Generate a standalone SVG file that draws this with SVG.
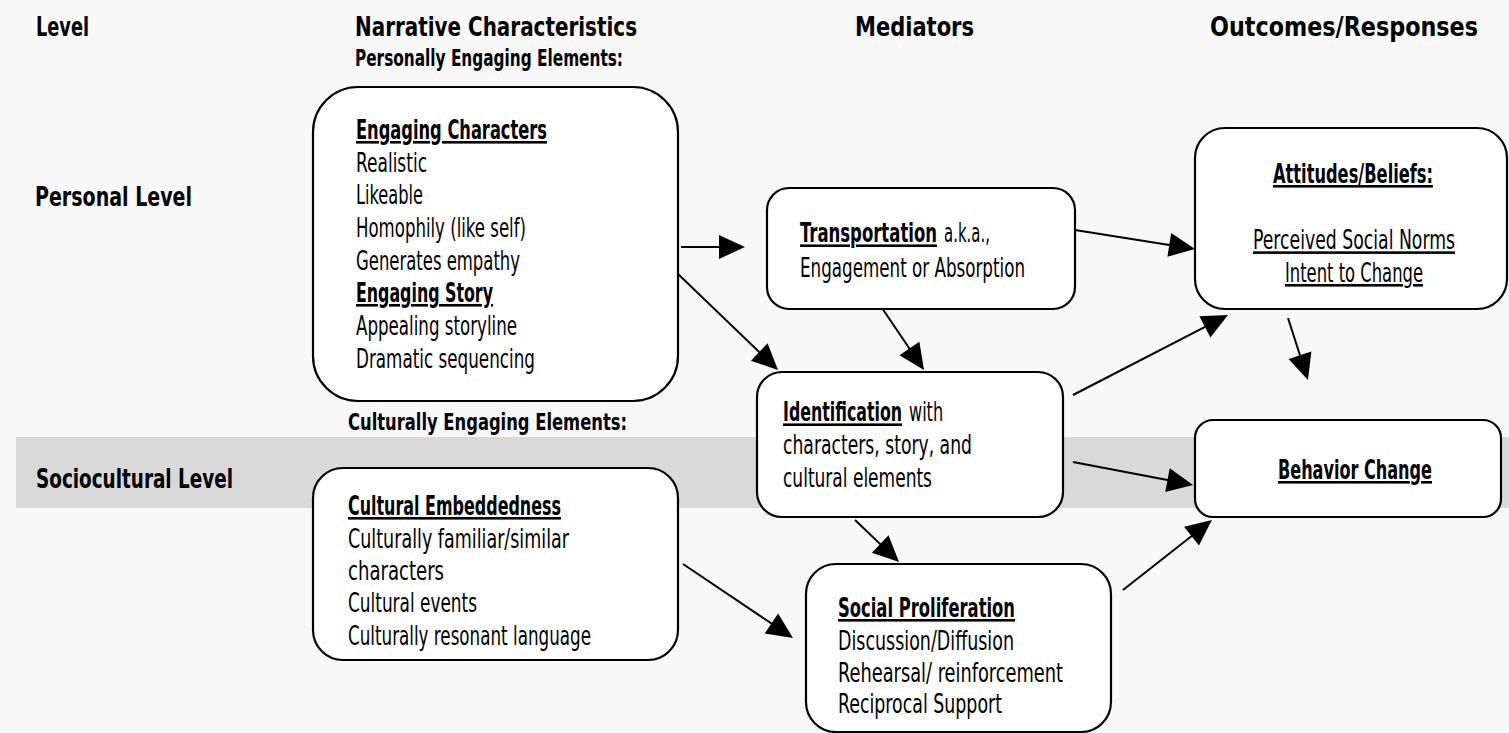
<svg xmlns="http://www.w3.org/2000/svg" width="1509" height="733" viewBox="0 0 1509 733">
  <defs>
    <marker id="ah" markerUnits="userSpaceOnUse" markerWidth="26" markerHeight="24" refX="16" refY="12" orient="auto" overflow="visible">
      <path d="M0,0 L26,12 L0,24 Z" fill="#000"/>
    </marker>
    <style>
      text { font-family: "DejaVu Sans Condensed", "DejaVu Sans", sans-serif; font-stretch: condensed; fill: #000; }
      .h { font-size: 26px; font-weight: bold; }
      .s { font-size: 23px; font-weight: bold; }
      .t { font-size: 26px; font-weight: normal; }
      .b { font-size: 26px; font-weight: bold; }
      .u { text-decoration: underline; }
      .box { fill: #fff; stroke: #000; stroke-width: 2.2; }
      .c { fill: none; stroke: #000; stroke-width: 2; marker-end: url(#ah); }
    </style>
  </defs>
  <rect x="0" y="0" width="1509" height="733" fill="#f8f8f8"/>
  <rect x="16" y="437" width="1493" height="71" fill="#d9d9d9"/>

  <g id="headers">
    <text class="h" x="36" y="36" textLength="53" lengthAdjust="spacingAndGlyphs">Level</text>
    <text class="h" x="355" y="36" textLength="282" lengthAdjust="spacingAndGlyphs">Narrative Characteristics</text>
    <text class="h" x="855" y="36" textLength="119" lengthAdjust="spacingAndGlyphs">Mediators</text>
    <text class="h" x="1210" y="36" textLength="268" lengthAdjust="spacingAndGlyphs">Outcomes/Responses</text>
    <text class="s" x="355" y="66" textLength="268" lengthAdjust="spacingAndGlyphs">Personally Engaging Elements:</text>
    <text class="h" x="35" y="206" textLength="157" lengthAdjust="spacingAndGlyphs">Personal Level</text>
    <text class="s" x="348" y="430" textLength="279" lengthAdjust="spacingAndGlyphs">Culturally Engaging Elements:</text>
    <text class="h" x="36" y="488" textLength="197" lengthAdjust="spacingAndGlyphs">Sociocultural Level</text>
  </g>

  <g id="connectors">
    <line class="c" x1="681" y1="247" x2="735" y2="247"/>
    <line class="c" x1="677" y1="273" x2="770.8" y2="363.1"/>
    <line class="c" x1="882" y1="308" x2="918.4" y2="361.7"/>
    <line class="c" x1="1075" y1="230" x2="1185.1" y2="247.4"/>
    <line class="c" x1="1073" y1="395" x2="1219.1" y2="319.6"/>
    <line class="c" x1="1288" y1="318" x2="1304.9" y2="370.5"/>
    <line class="c" x1="1073" y1="462" x2="1183.2" y2="483.1"/>
    <line class="c" x1="855" y1="520" x2="891.8" y2="555.1"/>
    <line class="c" x1="683" y1="564" x2="784.7" y2="632.4"/>
    <line class="c" x1="1123" y1="590" x2="1204.1" y2="526.2"/>
  </g>

  <g id="engaging-elements">
    <rect class="box" x="313" y="87" width="365" height="314" rx="45"/>
    <text class="b u" x="356" y="139" textLength="191" lengthAdjust="spacingAndGlyphs">Engaging Characters</text>
    <text class="t" x="356" y="172" textLength="71" lengthAdjust="spacingAndGlyphs">Realistic</text>
    <text class="t" x="356" y="204" textLength="67" lengthAdjust="spacingAndGlyphs">Likeable</text>
    <text class="t" x="356" y="237" textLength="170" lengthAdjust="spacingAndGlyphs">Homophily (like self)</text>
    <text class="t" x="356" y="270" textLength="164" lengthAdjust="spacingAndGlyphs">Generates empathy</text>
    <text class="b u" x="356" y="302" textLength="137" lengthAdjust="spacingAndGlyphs">Engaging Story</text>
    <text class="t" x="356" y="335" textLength="161" lengthAdjust="spacingAndGlyphs">Appealing storyline</text>
    <text class="t" x="356" y="368" textLength="179" lengthAdjust="spacingAndGlyphs">Dramatic sequencing</text>
  </g>

  <g id="cultural-embeddedness">
    <rect class="box" x="313" y="468" width="365" height="192" rx="30"/>
    <text class="b u" x="348" y="515" textLength="213" lengthAdjust="spacingAndGlyphs">Cultural Embeddedness</text>
    <text class="t" x="348" y="548" textLength="221" lengthAdjust="spacingAndGlyphs">Culturally familiar/similar</text>
    <text class="t" x="348" y="580" textLength="96" lengthAdjust="spacingAndGlyphs">characters</text>
    <text class="t" x="348" y="612" textLength="129" lengthAdjust="spacingAndGlyphs">Cultural events</text>
    <text class="t" x="348" y="645" textLength="243" lengthAdjust="spacingAndGlyphs">Culturally resonant language</text>
  </g>

  <g id="transportation">
    <rect class="box" x="767" y="188" width="308" height="121" rx="22"/>
    <text class="b u" transform="translate(800,242) scale(0.62,1)" x="0" y="0" textLength="221" lengthAdjust="spacingAndGlyphs">Transportation</text>
    <text class="t" transform="translate(944,242) scale(0.62,1)" x="0" y="0" textLength="74" lengthAdjust="spacingAndGlyphs">a.k.a.,</text>
    <text class="t" x="800" y="277" textLength="225" lengthAdjust="spacingAndGlyphs">Engagement or Absorption</text>
  </g>

  <g id="identification">
    <rect class="box" x="757" y="372" width="306" height="145" rx="25"/>
    <text class="b u" transform="translate(783,421) scale(0.62,1)" x="0" y="0" textLength="192" lengthAdjust="spacingAndGlyphs">Identification</text>
    <text class="t" transform="translate(909,421) scale(0.62,1)" x="0" y="0" textLength="55" lengthAdjust="spacingAndGlyphs">with</text>
    <text class="t" x="783" y="454" textLength="189" lengthAdjust="spacingAndGlyphs">characters, story, and</text>
    <text class="t" x="783" y="487" textLength="149" lengthAdjust="spacingAndGlyphs">cultural elements</text>
  </g>

  <g id="social-proliferation">
    <rect class="box" x="806" y="564" width="305" height="168" rx="30"/>
    <text class="b u" x="838" y="617" textLength="177" lengthAdjust="spacingAndGlyphs">Social Proliferation</text>
    <text class="t" x="838" y="650" textLength="176" lengthAdjust="spacingAndGlyphs">Discussion/Diffusion</text>
    <text class="t" x="838" y="682" textLength="225" lengthAdjust="spacingAndGlyphs">Rehearsal/ reinforcement</text>
    <text class="t" x="838" y="713" textLength="164" lengthAdjust="spacingAndGlyphs">Reciprocal Support</text>
  </g>

  <g id="attitudes-beliefs">
    <rect class="box" x="1195" y="128" width="312" height="181" rx="30"/>
    <text class="b u" x="1273" y="183" textLength="160" lengthAdjust="spacingAndGlyphs">Attitudes/Beliefs:</text>
    <text class="t u" transform="translate(1253,249) scale(0.7,1)" x="0" y="0" textLength="288.6" lengthAdjust="spacingAndGlyphs">Perceived Social Norms</text>
    <text class="t u" x="1285" y="282" textLength="138" lengthAdjust="spacingAndGlyphs">Intent to Change</text>
  </g>

  <g id="behavior-change">
    <rect class="box" x="1195" y="420" width="306" height="97" rx="18"/>
    <text class="b u" x="1278" y="479" textLength="154" lengthAdjust="spacingAndGlyphs">Behavior Change</text>
  </g>
</svg>
